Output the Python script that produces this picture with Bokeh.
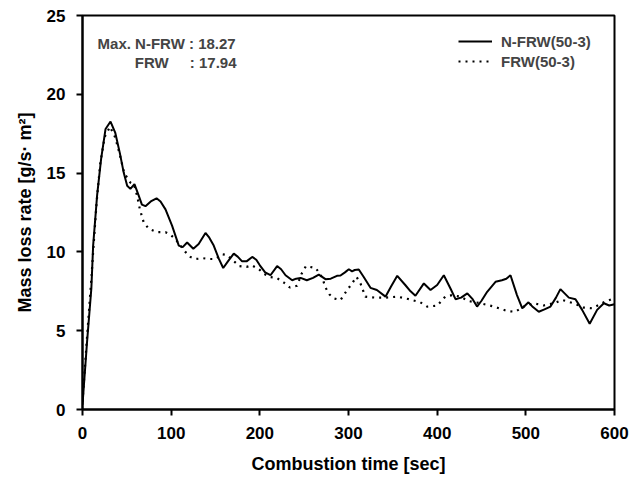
from bokeh.plotting import figure
from bokeh.models import Legend, LegendItem, Label, FixedTicker, Range1d
from bokeh.embed import file_html
from bokeh.resources import INLINE

# N-FRW(50-3)
t_nfrw = [0, 5, 10, 12, 16.5, 21, 26, 31.6, 37, 42, 46.6, 50.4, 54, 58.6, 63.5, 67, 71, 77, 83.5, 88, 93.6,
          101, 108.6, 113, 118, 125, 131, 138.7, 143, 148, 153.7, 158.7, 164, 170.6, 175, 180, 185, 191.4,
          196, 200, 206, 212, 219.5, 224, 229, 236.5, 241, 246, 253, 260, 266.5, 274, 280, 287, 291, 296,
          300.4, 304, 307, 311.6, 317, 324.8, 332, 341.7, 348, 355, 364, 370, 375.5, 385, 392.5, 400, 407.5,
          415, 420.7, 427, 434, 440, 445, 450, 456.4, 465.8, 473, 478, 482.7, 490, 496, 503, 508, 514.6,
          521, 527.8, 534, 539, 548.5, 556, 563.5, 572, 580.4, 588, 594, 600]
v_nfrw = [0.3, 4.2, 7.7, 10.4, 13.6, 15.9, 17.8, 18.27, 17.55, 16.3, 15.0, 14.2, 14.0, 14.3, 13.56, 13.0, 12.9,
          13.2, 13.4, 13.2, 12.7, 11.67, 10.4, 10.3, 10.6, 10.2, 10.5, 11.2, 10.9, 10.4, 9.57, 8.98, 9.4, 9.89,
          9.7, 9.4, 9.4, 9.68, 9.5, 9.15, 8.7, 8.52, 9.1, 8.9, 8.52, 8.2, 8.3, 8.35, 8.2, 8.35, 8.56, 8.27,
          8.3, 8.48, 8.5, 8.7, 8.9, 8.77, 8.85, 8.88, 8.42, 7.72, 7.58, 7.16, 7.8, 8.48, 7.9, 7.5, 7.22, 8.0,
          7.58, 7.9, 8.52, 7.68, 7.0, 7.1, 7.37, 7.0, 6.53, 6.9, 7.47, 8.1, 8.2, 8.3, 8.52, 7.26, 6.42, 6.8,
          6.5, 6.2, 6.35, 6.53, 7.1, 7.64, 7.1, 7.0, 6.32, 5.44, 6.32, 6.74, 6.6, 6.68]

# FRW(50-3)
t_frw = [0, 5, 10, 12, 16, 20, 25, 31, 37, 42, 47, 54, 58, 61.6, 64.7, 69, 74.8, 84, 93.6, 99, 105, 110.5, 116,
         121.8, 128, 136, 143, 150, 157.5, 163, 170, 177, 185, 191, 199, 205, 212, 219, 227, 233.8, 242, 247,
         252, 262.8, 268, 271.4, 274, 278.6, 283.4, 291, 298.5, 304, 309, 313.5, 319, 330, 342, 355, 368, 381,
         388.7, 400, 409, 417, 426, 435.7, 449, 464, 479, 488, 499.6, 509, 520, 531.5, 541, 554, 565, 575,
         588, 597, 600]
v_frw = [0.5, 4.5, 8.3, 10.0, 13.2, 15.6, 17.3, 17.94, 17.25, 16.2, 15.0, 14.4, 14.3, 13.56, 12.7, 11.88, 11.46,
         11.25, 11.25, 11.1, 10.8, 10.4, 10.0, 9.68, 9.55, 9.6, 9.55, 9.55, 9.85, 9.8, 9.45, 9.1, 9.05, 9.15,
         8.9, 8.6, 8.4, 8.35, 8.06, 7.74, 7.85, 8.6, 9.1, 8.98, 8.6, 8.2, 7.74, 7.3, 7.05, 6.95, 7.58, 8.0, 8.42,
         8.0, 7.16, 7.1, 7.1, 7.16, 7.0, 6.8, 6.53, 6.59, 7.16, 7.26, 7.16, 6.88, 6.74, 6.53, 6.25, 6.2, 6.59,
         6.74, 6.6, 6.74, 6.95, 6.74, 6.47, 6.42, 6.8, 7.0, 7.0]

x_ticks = [0, 100, 200, 300, 400, 500, 600]
y_ticks = [0, 5, 10, 15, 20, 25]
series_names = ["N-FRW(50-3)", "FRW(50-3)"]
max_label = "Max. N-FRW : 18.27"
frw_label = "FRW"
frw_value = ": 17.94"

FONT = "Liberation Sans"

p = figure(width=634, height=476, output_backend="svg", toolbar_location=None,
           x_range=Range1d(0, 600), y_range=Range1d(0, 25),
           min_border_left=82, min_border_right=20, min_border_top=15, min_border_bottom=64)
p.background_fill_color = "white"
p.border_fill_color = "white"
p.outline_line_color = "black"
p.outline_line_width = 2
p.xgrid.visible = False
p.ygrid.visible = False

for ax in (p.xaxis[0], p.yaxis[0]):
    ax.axis_line_width = 2
    ax.axis_line_color = "black"
    ax.major_tick_line_width = 2
    ax.major_tick_line_color = "black"
    ax.major_tick_out = 6
    ax.major_tick_in = 0
    ax.minor_tick_line_color = None
    ax.major_label_text_font = FONT
    ax.major_label_text_font_size = "17px"
    ax.major_label_text_font_style = "bold"
    ax.major_label_text_color = "black"
    ax.axis_label_text_font = FONT
    ax.axis_label_text_font_size = "18px"
    ax.axis_label_text_font_style = "bold"
    ax.axis_label_text_color = "black"

p.xaxis.ticker = FixedTicker(ticks=x_ticks)
p.yaxis.ticker = FixedTicker(ticks=y_ticks)
p.xaxis.axis_label = "Combustion time [sec]"
p.yaxis.axis_label = "Mass loss rate [g/s\u00b7 m\u00b2]"
p.xaxis.major_label_standoff = 11
p.yaxis.major_label_standoff = 11
p.xaxis.axis_label_standoff = 12
p.yaxis.axis_label_standoff = 9

r1 = p.line(t_nfrw, v_nfrw, line_color="black", line_width=2)
r2 = p.line(t_frw, v_frw, line_color="black", line_width=2.2, line_dash="2 5")

legend = Legend(items=[LegendItem(label=series_names[0], renderers=[r1]),
                       LegendItem(label=series_names[1], renderers=[r2])],
                location=(376, 338), orientation="vertical",
                glyph_width=34, glyph_height=20, label_standoff=9, spacing=0,
                padding=0, margin=0, label_height=20,
                label_text_font=FONT, label_text_font_size="15px", label_text_font_style="bold",
                border_line_color=None, background_fill_alpha=0)
p.add_layout(legend, "center")

p.add_layout(Label(x=17, y=23.2, text=max_label, text_font=FONT, text_font_size="15px",
                   text_font_style="bold", text_baseline="middle", text_align="left"))
p.add_layout(Label(x=59, y=22.0, text=frw_label, text_font=FONT, text_font_size="15px",
                   text_font_style="bold", text_baseline="middle", text_align="left"))
p.add_layout(Label(x=121, y=22.0, text=frw_value, text_font=FONT, text_font_size="15px",
                   text_font_style="bold", text_baseline="middle", text_align="left"))

open("out.html", "w").write(file_html(p, INLINE))
